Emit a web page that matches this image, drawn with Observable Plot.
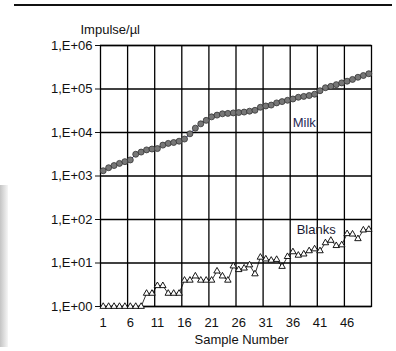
<!DOCTYPE html>
<html><head><meta charset="utf-8">
<script src="https://cdn.jsdelivr.net/npm/d3@7"></script>
<script src="https://cdn.jsdelivr.net/npm/@observablehq/plot@0.6"></script>
<style>
body{margin:0;background:#fff;}
#wrap{position:relative;width:396px;height:351px;overflow:hidden;background:#fff;}
#topline{position:absolute;left:14px;top:4px;width:378px;height:2px;background:#111;}
#shade{position:absolute;left:0;top:185px;width:8px;height:162px;background:linear-gradient(to right,#c4c4c4,#f6f6f6);}
#chart{position:absolute;left:0;top:0;}
</style></head><body>
<div id="wrap"><div id="topline"></div><div id="shade"></div><div id="chart"></div></div>
<script>
const samples = [1,2,3,4,5,6,7,8,9,10,11,12,13,14,15,16,17,18,19,20,21,22,23,24,25,26,27,28,29,30,31,32,33,34,35,36,37,38,39,40,41,42,43,44,45,46,47,48,49,50];
const milk = [1320,1550,1740,1950,2140,2340,3160,3550,3980,4170,4270,5130,5620,5890,6310,7080,9330,12600,15800,19000,22900,25100,26900,27500,28200,28800,29500,30900,32400,38000,40700,42700,47900,51300,55000,58900,64600,67600,70800,75900,91200,107000,115000,126000,138000,151000,166000,186000,204000,224000];
const blanks = [1,1,1,1,1,1,1,1,2,2,3,3,2,2,2,4,4,5,4,4,4,6.5,5,4,8.5,7,7.6,9,5.6,13.5,12.3,11.5,12,8.3,14,18,15,16,19,21,19,29,33,25,26,47,46,36,57,59];
const yTicks = [1,10,100,1000,10000,100000,1000000];
const xTicks = [1,6,11,16,21,26,31,36,41,46];
const xGrid = [5.5,10.5,15.5,20.5,25.5,30.5,35.5,40.5,45.5];

const data = samples.map((s,i)=>({sample:s, milk:milk[i], blanks:blanks[i]}));
const fmt = d => "1,E+" + String(Math.round(Math.log10(d))).padStart(2,"0");

const chart = Plot.plot({
  width:396, height:351,
  marginLeft:100, marginRight:25, marginTop:45, marginBottom:45,
  style:{fontFamily:"'Liberation Sans', Arial, sans-serif", fontSize:"13px", color:"#111", background:"transparent"},
  x:{domain:[0.5,50.5], ticks:xTicks, tickSize:0, tickPadding:11, label:null},
  y:{type:"log", domain:[1,1e6], ticks:yTicks, tickFormat:fmt, tickSize:5, tickPadding:3, label:null},
  marks:[
    Plot.ruleY(yTicks, {stroke:"#000", strokeWidth:1.3}),
    Plot.ruleX(xGrid, {stroke:"#000", strokeWidth:1.3}),
    Plot.frame({stroke:"#000", strokeWidth:1.3}),
    Plot.line(data, {x:"sample", y:"milk", stroke:"#1a1a6e", strokeWidth:1}),
    Plot.dot(data, {x:"sample", y:"milk", r:3, fill:"#777", stroke:"#333", strokeWidth:0.8}),
    Plot.line(data, {x:"sample", y:"blanks", stroke:"#000", strokeWidth:0.8}),
    Plot.dot(data, {x:"sample", y:"blanks", symbol:"triangle", r:2.4, fill:"#fff", stroke:"#000", strokeWidth:0.9}),
    Plot.text(["Milk"], {x:38.1, y:16600, fill:"#2a2a55", fontSize:13}),
    Plot.text(["Blanks"], {x:40.3, y:58, fill:"#1a1a33", fontSize:13}),
    Plot.text(["Impulse/µl"], {frameAnchor:"top-left", textAnchor:"start", dx:-20, dy:-21, fill:"#111", fontSize:13}),
    Plot.text(["Sample Number"], {frameAnchor:"bottom", dx:5.5, dy:37, fill:"#111", fontSize:13})
  ]
});
document.getElementById("chart").appendChild(chart);
</script>
</body></html>
